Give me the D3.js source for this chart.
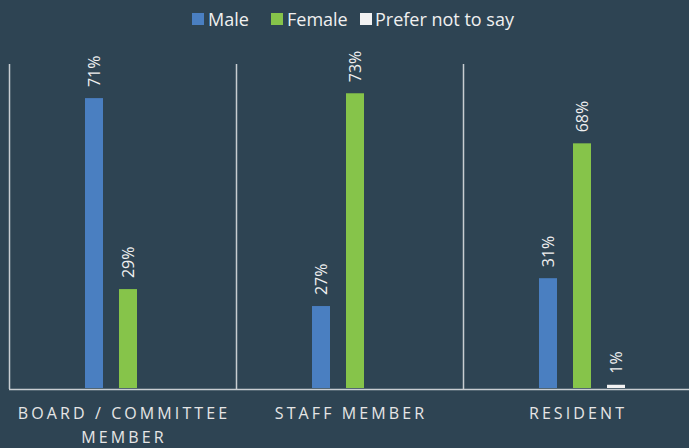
<!DOCTYPE html>
<html>
<head>
<meta charset="utf-8">
<script src="https://cdn.jsdelivr.net/npm/d3@7"></script>
<style>
  html, body { margin: 0; padding: 0; background: #2e4453; }
  svg { display: block; }
</style>
</head>
<body>
<svg id="chart" width="689" height="448"></svg>
<script>
// ---- data ----
const categories = ["BOARD / COMMITTEE MEMBER", "STAFF MEMBER", "RESIDENT"];
const categoryLines = [["BOARD / COMMITTEE", "MEMBER"], ["STAFF MEMBER"], ["RESIDENT"]];
const seriesNames = ["Male", "Female", "Prefer not to say"];
const seriesColors = ["#4a7fc1", "#86c44a", "#f2f2f2"];
// bar heights as drawn (percent units)
const maleValues = [71.8, 20.3, 27.2];
const femaleValues = [24.5, 73, 60.6];
const preferValues = [0, 0, 0.8];
// data labels printed above the bars
const maleLabels = ["71%", "27%", "31%"];
const femaleLabels = ["29%", "73%", "68%"];
const preferLabels = [null, null, "1%"];
const yDomain = [0, 80];

const seriesValues = [maleValues, femaleValues, preferValues];
const seriesLabels = [maleLabels, femaleLabels, preferLabels];

const svg = d3.select("#chart");
const W = 689, H = 448;
svg.append("rect").attr("width", W).attr("height", H).attr("fill", "#2e4453");

const plot = { left: 9, right: 690, top: 64, bottom: 389 };

const x0 = d3.scaleBand().domain(categories).range([plot.left, plot.right]).padding(0);
const x1 = d3.scaleBand().domain(seriesNames).range([76, 76 + 34 * 3 - 16]).paddingInner(16 / 34).paddingOuter(0);
const y = d3.scaleLinear().domain(yDomain).range([plot.bottom - 1, plot.top + 1]);

const gridColor = "#c8cdd1";

// category separators
const seps = categories.map(c => x0(c));
svg.append("g").selectAll("line").data(seps).join("line")
  .attr("x1", d => d + 0.5).attr("x2", d => d + 0.5)
  .attr("y1", plot.top).attr("y2", plot.bottom)
  .attr("stroke", gridColor).attr("stroke-width", 1.5);

// bars
const rows = [];
categories.forEach((c, i) => {
  seriesNames.forEach((s, j) => {
    rows.push({ cat: c, series: s, j, value: seriesValues[j][i], label: seriesLabels[j][i] });
  });
});

const g = svg.append("g");
g.selectAll("rect.bar").data(rows.filter(d => d.value > 0)).join("rect")
  .attr("class", "bar")
  .attr("x", d => x0(d.cat) + x1(d.series))
  .attr("width", x1.bandwidth())
  .attr("y", d => y(d.value))
  .attr("height", d => y(0) - y(d.value))
  .attr("fill", d => seriesColors[d.j]);

// data labels
g.selectAll("text.lbl").data(rows.filter(d => d.label)).join("text")
  .attr("class", "lbl")
  .attr("transform", d => `translate(${x0(d.cat) + x1(d.series) + x1.bandwidth() / 2},${y(d.value) - 11}) rotate(-90)`)
  .attr("dy", "0.36em")
  .attr("text-anchor", "start")
  .attr("fill", "#f0f0f0")
  .attr("font-family", "'Open Sans', sans-serif")
  .attr("font-size", 16)
  .text(d => d.label);

// bottom axis line
svg.append("line")
  .attr("x1", plot.left).attr("x2", plot.right)
  .attr("y1", plot.bottom + 0.5).attr("y2", plot.bottom + 0.5)
  .attr("stroke", gridColor).attr("stroke-width", 1.5);

// category labels
const catG = svg.append("g");
categories.forEach((c, i) => {
  const cx = x0(c) + x0.bandwidth() / 2;
  const t = catG.append("text")
    .attr("x", cx)
    .attr("y", 419)
    .attr("text-anchor", "middle")
    .attr("fill", "#e6e6e6")
    .attr("font-family", "'Open Sans', sans-serif")
    .attr("font-size", 16)
    .attr("letter-spacing", "3.1px");
  categoryLines[i].forEach((ln, k) => {
    t.append("tspan").attr("x", cx + 1.5).attr("dy", k === 0 ? 0 : 23.5).text(ln);
  });
});

// legend
const legendItems = [
  { name: seriesNames[0], color: seriesColors[0], sx: 192, tx: 208 },
  { name: seriesNames[1], color: seriesColors[1], sx: 271, tx: 287 },
  { name: seriesNames[2], color: seriesColors[2], sx: 360, tx: 375 }
];
const lg = svg.append("g");
legendItems.forEach(it => {
  lg.append("rect").attr("x", it.sx).attr("y", 13).attr("width", 12).attr("height", 12).attr("fill", it.color);
  lg.append("text").attr("x", it.tx).attr("y", 25.5)
    .attr("fill", "#f0f0f0")
    .attr("font-family", "'Open Sans', sans-serif")
    .attr("font-size", 18)
    .text(it.name);
});
</script>
</body>
</html>
